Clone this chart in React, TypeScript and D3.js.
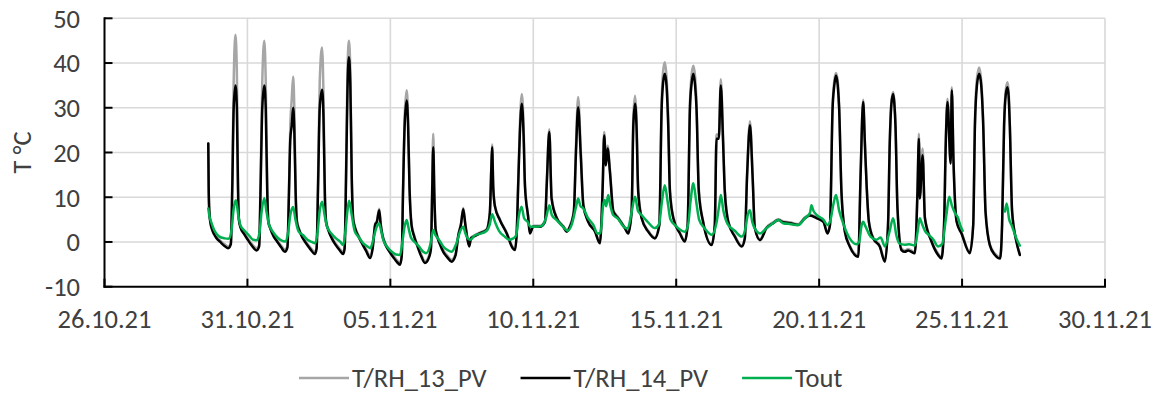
import React, { useEffect, useRef } from "react";
import * as d3 from "d3";

// x ticks (every 5 days) and y ticks
const xTickDates = ["2021-10-26", "2021-10-31", "2021-11-05", "2021-11-10", "2021-11-15", "2021-11-20", "2021-11-25", "2021-11-30"];
const yTicks = [-10, 0, 10, 20, 30, 40, 50];
const yTitle = "T °C";
const seriesNames = ["T/RH_13_PV", "T/RH_14_PV", "Tout"];
const seriesColors = ["#A6A6A6", "#000000", "#00B050"];

// time = days elapsed since 26.10.21 00:00, value = °C
const trh13: [number, number][] = [
[3.63,22.0],[3.645,12],[3.665,7],[3.70,4.7],[3.78,2.8],[3.90,1.3],[4.05,0.3],[4.20,-0.5],[4.33,-1.0],
[4.42,-0.2],[4.47,14],[4.52,36],[4.58,46.3],[4.63,38],[4.67,14],[4.70,5.5],[4.76,3.5],[4.88,2.1],[5.00,0.9],[5.15,-0.4],[5.32,-1.4],
[5.41,-0.6],[5.46,14],[5.52,36],[5.59,45.0],[5.64,36],[5.69,14],[5.73,5],[5.80,3.3],[5.92,1.5],[6.05,0.3],[6.18,-0.8],[6.31,-1.7],
[6.40,-0.8],[6.45,11],[6.50,26],[6.55,32],[6.60,37],[6.64,30],[6.69,11],[6.73,5],[6.80,3.1],[6.92,1.3],[7.05,0.0],[7.20,-1.2],[7.36,-2.2],
[7.42,-1.1],[7.47,14],[7.53,36],[7.61,43.5],[7.66,33],[7.71,11],[7.75,5],[7.82,3.1],[7.95,1.1],[8.08,-0.3],[8.22,-1.4],[8.35,-2.3],
[8.40,-1.1],[8.45,16],[8.50,38],[8.55,45.0],[8.60,38],[8.65,15],[8.70,5.5],[8.77,3.3],[8.90,1.3],[9.03,-0.3],[9.15,-1.6],[9.29,-3.1],
[9.38,-1.1],[9.47,4.1],[9.53,4.7],[9.61,7.4],[9.66,4.2],[9.72,1.8],[9.82,-0.2],[9.95,-1.7],[10.10,-3.0],[10.22,-4.0],[10.34,-4.7],
[10.40,-2.6],[10.44,11],[10.50,28],[10.57,33.9],[10.62,28],[10.67,13],[10.74,4.1],[10.82,1.8],[10.95,-0.7],[11.08,-2.8],[11.21,-4.3],
[11.35,-3.1],[11.42,-1.1],[11.46,11],[11.50,24.2],[11.54,11],[11.58,3.3],[11.62,1.9],[11.72,0.0],[11.85,-1.8],[12.00,-3.1],[12.14,-4.0],
[12.28,-2.6],[12.38,1.8],[12.47,4.1],[12.55,7.6],[12.62,4.2],[12.70,0.8],[12.76,-0.7],[12.82,1.0],[12.95,1.5],[13.13,2.1],[13.37,2.9],
[13.48,6.6],[13.53,16.5],[13.56,21.8],[13.60,12.5],[13.66,8.1],[13.83,5.1],[14.07,2.1],[14.28,-1.1],[14.36,-1.5],
[14.42,2.3],[14.47,13],[14.53,26],[14.60,33.1],[14.66,26],[14.71,13],[14.82,5.8],[14.88,2.1],[15.0,3.6],[15.23,3.6],[15.41,4.7],
[15.47,13.2],[15.56,25.2],[15.64,10.2],[15.82,5.5],[16.05,3.6],[16.17,2.5],[16.28,3.6],[16.42,7.1],[16.49,21],[16.57,32.4],[16.66,21],[16.75,8.6],[16.92,4.7],[17.16,2.5],[17.33,-0.1],
[17.43,13.5],[17.48,24.6],[17.54,17.8],[17.60,21.5],[17.68,16.3],[17.80,7.1],[17.97,5.5],[18.20,3.3],[18.32,2.1],[18.44,7.2],[18.50,28],[18.56,32.7],[18.61,28],[18.67,12],[18.79,5.5],[19.02,2.5],[19.25,1.0],
[19.41,4.0],[19.49,31.5],[19.54,38],[19.60,40.2],[19.66,37],[19.72,28],[19.78,12],[19.90,5.5],[20.13,2.1],[20.30,0.3],
[20.40,4.0],[20.48,31],[20.54,37.5],[20.60,39.4],[20.66,37],[20.71,31],[20.79,12],[20.94,4.7],[21.24,-0.5],
[21.35,4.0],[21.41,24],[21.49,24],[21.56,36.4],[21.64,23.5],[21.70,11.8],[21.82,4.7],[22.05,1.4],[22.29,-0.8],[22.40,1.0],[22.48,15.5],[22.58,27.0],[22.67,15.5],[22.75,3.3],[22.93,0.6],
[23.16,3.3],[23.39,4.4],[23.57,5.1],[23.74,4.6],[23.98,4.4],[24.27,4.0],[24.50,5.5],[24.68,6.1],[24.92,5.5],[25.15,4.7],[25.29,2.1],
[25.38,4.0],[25.47,30.5],[25.53,36],[25.59,37.8],[25.65,36],[25.70,30.5],[25.78,11.6],[25.90,2.5],[26.07,-0.8],[26.37,-3.0],
[26.45,15.3],[26.54,31.8],[26.60,22.5],[26.66,13.1],[26.74,4.7],[26.89,1.0],[27.12,-0.8],[27.30,-4.1],
[27.41,4.0],[27.47,22.5],[27.53,31.5],[27.59,33.5],[27.63,31.5],[27.67,26.5],[27.74,7.8],[27.88,-1.5],[28.00,-1.9],[28.11,-1.6],[28.35,-2.2],
[28.44,11.8],[28.49,24.2],[28.52,10.2],[28.62,20.9],[28.70,5.6],[28.93,0.3],[29.16,-2.6],[29.28,-3.4],[29.37,4.0],[29.43,23],[29.49,32],[29.60,18],[29.64,34.6],[29.70,18.5],[29.81,4.7],[29.98,2.1],[30.27,-2.2],
[30.39,4.0],[30.45,27],[30.52,36.5],[30.60,39.0],[30.67,36],[30.74,27],[30.82,7.1],[30.97,-0.5],[31.15,-2.6],[31.33,-3.4],
[31.40,4.0],[31.47,26.5],[31.53,34],[31.59,35.7],[31.63,33.5],[31.67,26.5],[31.75,7.1],[31.90,0.3],[32.02,-2.6]
];

const trh14: [number, number][] = [
[3.63,22.0],[3.645,12],[3.665,7],[3.70,4.5],[3.78,2.5],[3.90,1.0],[4.05,0.0],[4.20,-0.9],[4.33,-1.4],
[4.42,-0.5],[4.47,12],[4.52,30],[4.58,35.0],[4.63,30],[4.67,12],[4.70,5],[4.76,3.2],[4.88,1.8],[5.00,0.6],[5.15,-0.8],[5.32,-1.9],
[5.41,-1.0],[5.46,12],[5.52,30],[5.59,35.0],[5.64,30],[5.69,12],[5.73,4.5],[5.80,3.0],[5.92,1.2],[6.05,0.0],[6.18,-1.2],[6.31,-2.2],
[6.40,-1.2],[6.45,10],[6.50,23],[6.55,26],[6.60,30],[6.64,25],[6.69,10],[6.73,4.5],[6.80,2.8],[6.92,1.0],[7.05,-0.3],[7.20,-1.6],[7.36,-2.7],
[7.42,-1.5],[7.47,12],[7.53,30],[7.61,34],[7.66,28],[7.71,10],[7.75,4.5],[7.82,2.8],[7.95,0.8],[8.08,-0.6],[8.22,-1.8],[8.35,-2.7],
[8.40,-1.5],[8.45,14],[8.50,34],[8.55,41.3],[8.60,35],[8.65,14],[8.70,5],[8.77,3],[8.90,1.0],[9.03,-0.6],[9.15,-2.0],[9.29,-3.6],
[9.38,-1.5],[9.47,3.9],[9.53,4.5],[9.61,7.1],[9.66,4],[9.72,1.5],[9.82,-0.5],[9.95,-2.0],[10.10,-3.4],[10.22,-4.4],[10.34,-5.1],
[10.40,-3],[10.44,10],[10.50,26],[10.57,31.6],[10.62,26],[10.67,12],[10.74,3.8],[10.82,1.5],[10.95,-1.0],[11.08,-3.2],[11.21,-4.7],
[11.35,-3.5],[11.42,-1.5],[11.46,10],[11.50,21.2],[11.54,10],[11.58,3],[11.62,1.6],[11.72,-0.3],[11.85,-2.2],[12.00,-3.5],[12.14,-4.4],
[12.28,-3.0],[12.38,1.5],[12.47,3.9],[12.55,7.3],[12.62,4],[12.70,0.5],[12.76,-1.0],[12.82,0.8],[12.95,1.3],[13.13,1.9],[13.37,2.7],
[13.48,6.4],[13.53,16],[13.56,21.2],[13.60,12],[13.66,7.9],[13.83,4.9],[14.07,1.9],[14.28,-1.4],[14.36,-1.8],
[14.42,2],[14.47,12.3],[14.53,24.2],[14.60,30.9],[14.66,24],[14.71,12.3],[14.82,5.6],[14.88,1.9],[15.0,3.4],[15.23,3.4],[15.41,4.5],
[15.47,12.7],[15.56,24.6],[15.64,9.7],[15.82,5.3],[16.05,3.4],[16.17,2.3],[16.28,3.4],[16.42,6.8],[16.49,19.4],[16.57,30.1],[16.66,19.4],[16.75,8.2],[16.92,4.5],[17.16,2.3],[17.33,-0.3],
[17.43,12.7],[17.48,23.8],[17.54,17.1],[17.60,20.9],[17.68,15.7],[17.80,6.8],[17.97,5.3],[18.20,3.1],[18.32,1.9],[18.44,6.8],[18.50,26.1],[18.56,30.9],[18.61,26],[18.67,11.2],[18.79,5.3],[19.02,2.3],[19.25,0.8],
[19.41,3.8],[19.49,29.8],[19.54,35.5],[19.60,37.6],[19.66,35],[19.72,26],[19.78,11.2],[19.90,5.3],[20.13,1.9],[20.30,0.1],
[20.40,3.8],[20.48,29.8],[20.54,35.5],[20.60,37.6],[20.66,35],[20.71,29.8],[20.79,11.2],[20.94,4.5],[21.24,-0.7],
[21.35,3.8],[21.41,23.1],[21.49,23.1],[21.56,35.0],[21.64,22.3],[21.70,11.2],[21.82,4.5],[22.05,1.2],[22.29,-1.0],[22.40,0.8],[22.48,14.9],[22.58,26.1],[22.67,14.9],[22.75,3.1],[22.93,0.4],
[23.16,3.1],[23.39,4.2],[23.57,4.9],[23.74,4.4],[23.98,4.2],[24.27,3.8],[24.50,5.3],[24.68,5.9],[24.92,5.3],[25.15,4.5],[25.29,1.9],
[25.38,3.8],[25.47,29.8],[25.53,35],[25.59,37.2],[25.65,35],[25.70,29.8],[25.78,11.2],[25.90,2.3],[26.07,-1.0],[26.37,-3.3],
[26.45,14.9],[26.54,31.3],[26.60,22],[26.66,12.7],[26.74,4.5],[26.89,0.8],[27.12,-1.0],[27.30,-4.4],
[27.41,3.8],[27.47,22],[27.53,31],[27.59,33.1],[27.63,31],[27.67,26],[27.74,7.5],[27.88,-1.8],[28.00,-2.2],[28.11,-1.9],[28.35,-2.5],
[28.44,11.2],[28.49,23.1],[28.52,9.7],[28.62,19.4],[28.70,5.3],[28.93,0.1],[29.16,-2.9],[29.28,-3.7],[29.37,3.8],[29.43,22],[29.49,31.3],[29.60,17.5],[29.64,33.9],[29.70,18],[29.81,4.5],[29.98,1.9],[30.27,-2.5],
[30.39,3.8],[30.45,26],[30.52,35],[30.60,37.6],[30.67,35],[30.74,26],[30.82,6.8],[30.97,-0.7],[31.15,-2.9],[31.33,-3.7],
[31.40,3.8],[31.47,26],[31.53,33],[31.59,34.6],[31.63,32.5],[31.67,26],[31.75,6.8],[31.90,0.1],[32.02,-2.9]
];

// outdoor temperature; null = no data (gap on 25.11-26.11)
const tout: [number, number | null][] = [
[3.63,7.5],[3.68,5.5],[3.73,4.5],[3.85,2.5],[4.00,1.3],[4.20,0.8],[4.35,0.7],[4.45,3],[4.52,7.5],[4.60,9.3],[4.68,6],[4.75,3.8],[4.90,2.5],[5.05,1.5],[5.20,0.5],[5.33,0.4],
[5.42,2],[5.50,7],[5.59,9.8],[5.66,7],[5.75,4],[5.90,2.2],[6.05,1.0],[6.20,0.3],[6.32,0.1],[6.42,2],[6.50,6],[6.60,7.8],[6.68,5],[6.78,2.5],[6.95,1.5],[7.10,0.5],[7.25,0.0],[7.37,-0.3],
[7.45,2],[7.53,7],[7.61,9.0],[7.70,6],[7.78,3.5],[7.95,1.8],[8.10,0.8],[8.25,0.0],[8.35,-0.7],[8.42,2],[8.50,7],[8.56,9.2],[8.65,6],[8.75,2.5],[8.90,1.0],[9.05,-0.3],[9.20,-1.0],[9.30,-1.4],
[9.40,0.5],[9.50,3],[9.60,4.2],[9.66,3],[9.75,0.5],[9.90,-1.2],[10.05,-2.2],[10.20,-2.8],[10.34,-2.9],[10.42,0],[10.50,3.5],[10.57,4.9],[10.64,3],[10.72,1],[10.85,0],[11.00,-1.0],[11.15,-2.2],[11.25,-2.5],
[11.40,-0.5],[11.50,2.7],[11.58,1.5],[11.70,0.5],[11.85,-1.0],[12.00,-1.8],[12.14,-2.2],[12.30,-0.5],[12.45,2.5],[12.55,3.4],[12.62,2],[12.72,0.7],[12.80,0.5],[12.96,1.5],[13.13,1.8],[13.37,2.5],
[13.48,4.0],[13.56,6.2],[13.66,4.5],[13.80,2.5],[14.00,1.2],[14.15,0.5],[14.30,0.8],[14.40,1.5],[14.50,6],[14.59,7.9],[14.68,5.3],[14.80,4.5],[14.90,3.4],[15.10,3.4],[15.30,3.6],[15.45,5.5],[15.56,8.2],
[15.65,6],[15.80,5.0],[15.95,4.0],[16.10,3.0],[16.20,2.5],[16.35,4.0],[16.50,8],[16.57,9.7],[16.65,8],[16.75,7.5],[16.90,5.5],[17.10,3.8],[17.25,1.9],[17.35,2.0],[17.45,8.5],[17.50,9.4],[17.55,8],[17.62,10.5],
[17.70,8],[17.80,6],[17.95,5.3],[18.15,3.5],[18.30,3.0],[18.45,7],[18.56,10.1],[18.66,7],[18.79,6.0],[19.0,4.5],[19.25,3.1],[19.40,4],[19.50,9],[19.60,12.7],[19.70,9],[19.80,5],[20.00,3.5],[20.30,2.3],
[20.42,4],[20.50,9],[20.60,13.1],[20.70,9],[20.80,5],[21.00,3],[21.25,1.6],[21.40,4],[21.50,8],[21.56,10.5],[21.65,7],[21.80,4],[22.05,2.5],[22.29,1.2],[22.42,3],[22.50,6],[22.58,7.1],[22.66,4.5],[22.80,2.5],[22.93,1.9],
[23.16,3.1],[23.39,4.2],[23.57,4.9],[23.74,4.2],[23.98,4.0],[24.27,3.8],[24.50,5.3],[24.68,6.5],[24.73,8.2],[24.80,7],[24.92,6.0],[25.15,5.0],[25.29,3.8],[25.40,5],[25.50,8.5],[25.59,10.5],[25.70,7],[25.85,4],
[26.07,0.8],[26.30,-0.5],[26.40,0],[26.48,3.5],[26.54,4.5],[26.62,3.5],[26.80,1.2],[27.00,0.5],[27.15,1.0],[27.30,-1.0],[27.45,2],[27.59,5.3],[27.70,1.5],[27.80,-0.3],[28.00,-0.6],[28.15,-0.5],[28.35,-0.8],
[28.45,2.5],[28.52,5.3],[28.60,4],[28.70,2.5],[28.85,1.5],[29.00,0.5],[29.16,-1.0],[29.30,-0.5],[29.45,6],[29.55,10.1],[29.65,8],[29.75,6.5],[29.85,5.5],[29.95,3.5],[30.02,2.5],
[30.5,null],
[31.50,6.8],[31.56,8.6],[31.65,5],[31.73,3.8],[31.90,0.8],[32.02,-0.8]
];

const FONT = "Carlito, Calibri, 'Liberation Sans', Arial, sans-serif";
const TEXT_COLOR = "#404040";
const FONT_SIZE = 26.5;

export default function App() {
  const ref = useRef<SVGSVGElement | null>(null);

  useEffect(() => {
    const W = 1159, H = 393;
    const margin = { left: 104.5, right: 1105, top: 18.3, bottom: 286.7 };
    const svg = d3.select(ref.current);
    svg.selectAll("*").remove();

    const base = Date.UTC(2021, 9, 26);
    const toDate = (t: number) => new Date(base + t * 864e5);
    const parse = d3.utcParse("%Y-%m-%d");
    const tickDates = xTickDates.map((s) => parse(s) as Date);

    const x = d3.scaleUtc().domain([tickDates[0], tickDates[tickDates.length - 1]]).range([margin.left, margin.right]);
    const y = d3.scaleLinear().domain([-10, 50]).range([margin.bottom, margin.top]);

    svg.append("rect").attr("width", W).attr("height", H).attr("fill", "#fff");

    // grid
    const grid = svg.append("g").attr("stroke", "#D9D9D9").attr("stroke-width", 1.6);
    yTicks.slice(1).forEach((v) => {
      grid.append("line").attr("x1", margin.left).attr("x2", margin.right).attr("y1", y(v)).attr("y2", y(v));
    });
    tickDates.slice(1).forEach((d) => {
      grid.append("line").attr("x1", x(d)).attr("x2", x(d)).attr("y1", margin.top).attr("y2", margin.bottom);
    });

    // series
    const line = d3.line<[number, number | null]>()
      .defined((d) => d[1] !== null)
      .x((d) => x(toDate(d[0])))
      .y((d) => y(d[1] as number))
      .curve(d3.curveMonotoneX);

    const data = [trh13, trh14, tout] as [number, number | null][][];
    data.forEach((s, i) => {
      svg.append("path")
        .attr("d", line(s) as string)
        .attr("fill", "none")
        .attr("stroke", seriesColors[i])
        .attr("stroke-width", 2.5)
        .attr("stroke-linejoin", "round")
        .attr("stroke-linecap", "round");
    });

    // axes
    const ax = svg.append("g").attr("stroke", "#000").attr("stroke-width", 2);
    ax.append("line").attr("x1", margin.left).attr("x2", margin.left).attr("y1", margin.top - 1).attr("y2", margin.bottom + 1);
    ax.append("line").attr("x1", margin.left - 1).attr("x2", margin.right + 1).attr("y1", margin.bottom).attr("y2", margin.bottom);
    yTicks.forEach((v) => {
      ax.append("line").attr("x1", margin.left).attr("x2", margin.left + 8).attr("y1", y(v)).attr("y2", y(v));
    });
    tickDates.forEach((d) => {
      ax.append("line").attr("x1", x(d)).attr("x2", x(d)).attr("y1", margin.bottom).attr("y2", margin.bottom - 8);
    });

    const fmt = d3.utcFormat("%d.%m.%y");
    const txt = svg.append("g").attr("font-family", FONT).attr("font-size", FONT_SIZE).attr("fill", TEXT_COLOR);
    yTicks.forEach((v) => {
      txt.append("text").attr("x", 80).attr("y", y(v)).attr("dy", "0.35em").attr("text-anchor", "end").text(String(v));
    });
    tickDates.forEach((d) => {
      txt.append("text").attr("x", x(d)).attr("y", 328).attr("text-anchor", "middle").text(fmt(d));
    });
    txt.append("text")
      .attr("transform", `translate(31,${(margin.top + margin.bottom) / 2}) rotate(-90)`)
      .attr("text-anchor", "middle")
      .text(yTitle);

    // legend
    const leg = svg.append("g").attr("font-family", FONT).attr("font-size", FONT_SIZE).attr("fill", TEXT_COLOR);
    let cx = 299;
    const ly = 378;
    seriesNames.forEach((name, i) => {
      leg.append("line").attr("x1", cx).attr("x2", cx + 50).attr("y1", ly).attr("y2", ly)
        .attr("stroke", seriesColors[i]).attr("stroke-width", 2.5);
      const t = leg.append("text").attr("x", cx + 53).attr("y", ly).attr("dy", "0.35em").text(name);
      const w = (t.node() as SVGTextElement).getComputedTextLength();
      cx = cx + 53 + w + 34;
    });
  }, []);

  return (
    <svg
      ref={ref}
      width={1159}
      height={393}
      style={{ position: "absolute", left: 0, top: 0, display: "block" }}
    />
  );
}
